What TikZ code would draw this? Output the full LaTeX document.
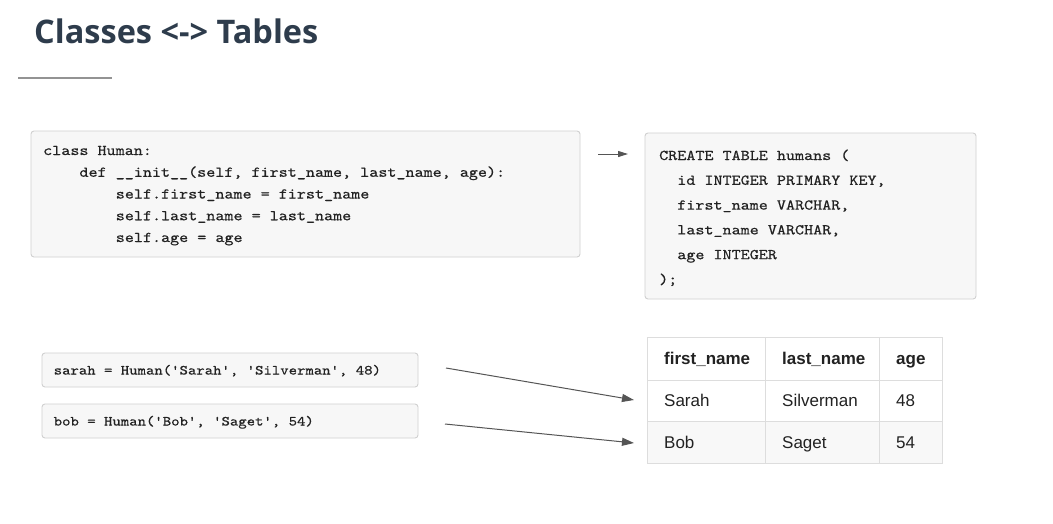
\documentclass[tikz,border=0pt]{standalone}
\usepackage{fontspec}
\usetikzlibrary{arrows.meta}
\newfontfamily\titlefont{Open Sans}
\newfontfamily\tabfont{Liberation Sans}
\newfontfamily\codefont[Extension=.otf,FakeStretch=1.15,FakeBold=0.5]{lmmono10-regular}
\definecolor{titlecol}{RGB}{46,60,76}
\definecolor{codebg}{RGB}{247,247,247}
\definecolor{codeborder}{RGB}{208,208,208}
\definecolor{tabborder}{RGB}{221,221,221}
\definecolor{rowbg}{RGB}{248,248,248}
\definecolor{txt}{RGB}{34,34,34}
\definecolor{arrowcol}{RGB}{85,85,85}
\tikzset{
  codebox/.style={draw=codeborder,fill=codebg,line width=0.9pt,rounded corners=3pt},
  codeline/.style={anchor=base west,inner sep=0pt,text=txt,font=\codefont\fontsize{15}{18}\selectfont},
  smallcode/.style={anchor=base west,inner sep=0pt,text=txt,font=\codefont\fontsize{13.9}{17}\selectfont},
  cell/.style={anchor=base west,inner sep=0pt,text=txt,font=\tabfont\fontsize{17}{20}\selectfont},
  headcell/.style={cell,font=\tabfont\bfseries\fontsize{17}{20}\selectfont},
  grid/.style={draw=tabborder,line width=1pt},
  conn/.style={draw=arrowcol,line width=1pt,-{Triangle[length=12pt,width=8pt]}},
  smallconn/.style={draw=arrowcol,line width=1pt,-{Triangle[length=10pt,width=6pt]}}
}
\begin{document}
\begin{tikzpicture}[x=1pt,y=-1pt]
\useasboundingbox (0,0) rectangle (1053,523);
\fill[white] (0,0) rectangle (1053,523);
% title
\node[anchor=base west,inner sep=0pt,text=titlecol,font=\titlefont\bfseries\fontsize{32.5}{38}\selectfont] (title) at (34,43.5) {Classes <-> Tables};
\draw[draw=gray!85,line width=1.3pt] (18,78) -- (112,78);
% python class box
\path[codebox] (31,131) rectangle (580,257);
\node[codeline] (c1) at (43,155) {class Human:};
\node[codeline] (c2) at (79.3,176.75) {def \_\_init\_\_(self, first\_name, last\_name, age):};
\node[codeline] (c3) at (115.6,198.5) {self.first\_name = first\_name};
\node[codeline] (c4) at (115.6,220.25) {self.last\_name = last\_name};
\node[codeline] (c5) at (115.6,242) {self.age = age};
% SQL box
\path[codebox] (645,133) rectangle (976,299);
\node[codeline] (s1) at (659,160) {CREATE TABLE humans (};
\node[codeline] (s2) at (677.1,184.8) {id INTEGER PRIMARY KEY,};
\node[codeline] (s3) at (677.1,209.6) {first\_name VARCHAR,};
\node[codeline] (s4) at (677.1,234.4) {last\_name VARCHAR,};
\node[codeline] (s5) at (677.1,259.2) {age INTEGER};
\node[codeline] (s6) at (659,284) {);};
\coordinate (a1s) at (598,154);
\coordinate (a1e) at (628,154);
\draw[smallconn] (a1s) -- (a1e);
% instance boxes
\path[codebox] (42,353) rectangle (418,387);
\node[smallcode] (sarah) at (53.5,374.5) {sarah = Human('Sarah', 'Silverman', 48)};
\path[codebox] (42,404) rectangle (418,438);
\node[smallcode] (bob) at (53.5,425.5) {bob = Human('Bob', 'Saget', 54)};
% table
\fill[rowbg] (647,421) rectangle (942,463);
\draw[grid] (647,337) rectangle (942,463);
\draw[grid] (647,380) -- (942,380);
\draw[grid] (647,421) -- (942,421);
\draw[grid] (765,337) -- (765,463);
\draw[grid] (879,337) -- (879,463);
\node[headcell] (h1) at (664,364.5) {first\_name};
\node[headcell] (h2) at (782,364.5) {last\_name};
\node[headcell] (h3) at (896,364.5) {age};
\node[cell] (r11) at (664,406.5) {Sarah};
\node[cell] (r12) at (782,406.5) {Silverman};
\node[cell] (r13) at (896,406.5) {48};
\node[cell] (r21) at (664,448) {Bob};
\node[cell] (r22) at (782,448) {Saget};
\node[cell] (r23) at (896,448) {54};
% arrows
\coordinate (b1s) at (446,368);
\coordinate (b1e) at (634,400);
\coordinate (b2s) at (445,424);
\coordinate (b2e) at (634,443);
\draw[conn] (b1s) -- (b1e);
\draw[conn] (b2s) -- (b2e);
\end{tikzpicture}
\end{document}
